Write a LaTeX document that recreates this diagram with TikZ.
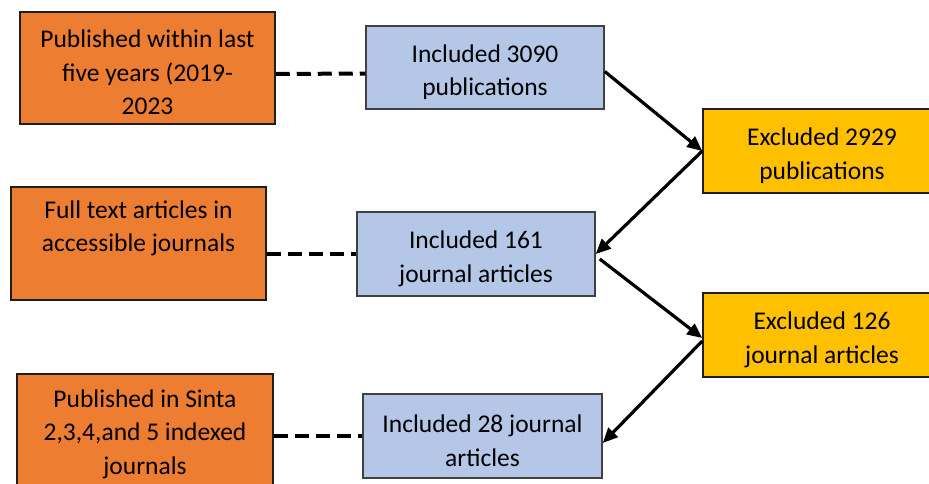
\documentclass[tikz,border=0pt]{standalone}
\usepackage{fontspec}
\setmainfont{Carlito}
\usetikzlibrary{arrows.meta}
\definecolor{boxorange}{HTML}{ED7D31}
\definecolor{boxblue}{HTML}{B4C7E7}
\definecolor{boxyellow}{HTML}{FFC000}
\definecolor{edgegray}{HTML}{1E1E1E}
\newcommand{\topgap}{\rule{0pt}{27pt}}
\begin{document}
\begin{tikzpicture}[x=1pt,y=-1pt,
  box/.style={draw=edgegray,line width=1.5pt,align=center,inner sep=0pt,
    font=\fontsize{25.5}{33.5}\selectfont},
  obox/.style={box,fill=boxorange,minimum width=255pt,minimum height=112pt},
  bbox/.style={box,fill=boxblue,draw=edgegray!85,minimum width=238pt,minimum height=84pt},
  ybox/.style={box,fill=boxyellow,minimum width=238pt,minimum height=84pt},
  dashline/.style={line width=4pt,dash pattern=on 14pt off 7pt},
  arr/.style={line width=3.2pt,-{Triangle[length=15pt,width=13pt]}}]
\useasboundingbox (0,0) rectangle (929,483);
\begin{scope}
\clip (0,0) rectangle (929,483);
\node[obox] (o1) at (147.5,68) {\topgap Published within last\\five years (2019-\\2023};
\node[obox,minimum height=113pt] (o2) at (138.5,243.5) {\topgap Full text articles in\\accessible journals\\\strut};
\node[obox,minimum height=120pt,minimum width=256pt] (o3) at (145,434) {Published in Sinta\\2,3,4,and 5 indexed\\journals};
\node[bbox,minimum height=83pt] (b1) at (485,67.5) {\topgap Included 3090\\publications};
\node[bbox] (b2) at (476,254) {\topgap Included 161\\journal articles};
\node[bbox,minimum width=239pt] (b3) at (482.5,436) {\topgap Included 28 journal\\articles};
\node[ybox] (y1) at (822,151) {\topgap Excluded 2929\\publications};
\node[ybox] (y2) at (822,335) {\topgap Excluded 126\\journal articles};
\draw[dashline] ([yshift=-6pt]o1.east) -- ([yshift=-6pt]b1.west);
\draw[dashline] (o2.east |- b2.west) -- (b2.west);
\draw[dashline] (o3.east |- b3.west) -- (b3.west);
\draw[arr] ([yshift=-4pt]b1.east) -- (y1.west);
\draw[arr] (y1.west) -- (b2.east);
\draw[arr] ([xshift=4pt,yshift=-5pt]b2.east) -- ([yshift=-3pt]y2.west);
\draw[arr] ([yshift=-6pt]y2.west) -- ([yshift=-7pt]b3.east);
\end{scope}
\end{tikzpicture}
\end{document}
